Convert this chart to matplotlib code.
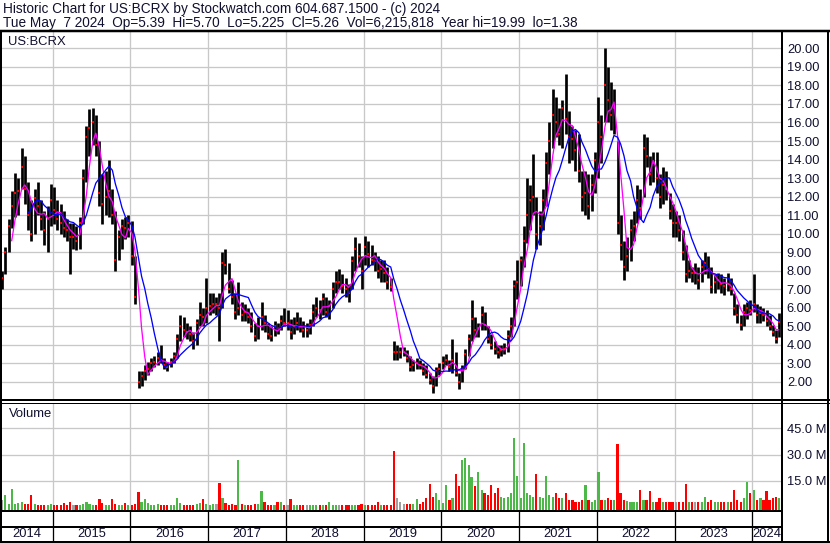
import numpy as np
import pandas as pd
import matplotlib
matplotlib.use('Agg')
import matplotlib.pyplot as plt
import matplotlib.dates as mdates

plt.rcParams['font.family'] = ['Liberation Sans', 'DejaVu Sans']

# half-month bars (high, low, close)
bars_2014 = [(8.0, 7.0, 7.6), (9.3, 7.8, 9.0), (10.8, 9.0, 10.4), (12.3, 10.3, 11.5),
             (13.3, 10.9, 12.2), (13.0, 11.0, 12.3), (14.6, 12.4, 13.6), (14.2, 11.6, 12.4),
             (12.8, 10.2, 11.0), (11.8, 9.6, 10.0), (12.4, 10.0, 11.9), (12.8, 11.0, 11.5),
             (11.8, 10.2, 10.8), (11.2, 9.4, 10.2), (11.5, 9.0, 10.8), (12.7, 10.4, 11.8)]
bars_2015 = [(12.5, 10.5, 11.3), (11.8, 10.2, 10.8), (11.6, 10.0, 10.6), (11.2, 9.8, 10.3),
             (10.8, 9.6, 10.2), (10.6, 7.8, 9.8), (10.6, 9.2, 9.8), (10.4, 9.1, 9.6),
             (10.9, 9.2, 10.6), (13.5, 10.5, 13.0), (15.8, 12.8, 15.2), (16.7, 14.2, 15.7),
             (16.8, 14.8, 16.0), (16.4, 14.2, 14.8), (15.0, 11.5, 12.2), (13.2, 10.5, 11.6),
             (13.4, 11.0, 12.0), (14.0, 10.9, 12.3), (12.4, 10.5, 11.0), (11.2, 8.0, 8.6),
             (10.2, 8.6, 9.8), (10.8, 9.2, 10.4), (10.9, 9.7, 10.3), (11.0, 9.8, 10.6)]
bars_2016 = [(10.7, 8.3, 8.8), (8.8, 6.2, 6.6), (2.6, 1.7, 2.0), (2.6, 1.8, 2.3),
             (2.9, 2.1, 2.6), (3.1, 2.4, 2.7), (3.3, 2.6, 3.0), (3.4, 2.8, 3.1),
             (3.6, 2.9, 3.3), (4.0, 3.0, 3.2), (3.3, 2.7, 2.9), (3.1, 2.6, 2.8),
             (3.3, 2.8, 3.1), (3.6, 3.0, 3.4), (4.6, 3.3, 4.3), (5.6, 4.2, 5.0),
             (5.5, 4.4, 4.8), (5.2, 4.3, 4.7), (5.0, 4.2, 4.6), (4.7, 3.8, 4.2),
             (5.4, 4.0, 5.2), (6.3, 5.0, 5.6), (6.0, 5.0, 5.5), (7.6, 5.2, 6.0)]
bars_2017 = [(6.8, 5.6, 6.1), (6.8, 5.7, 6.2), (6.6, 5.6, 6.2), (6.8, 4.2, 6.0),
             (9.0, 6.0, 8.4), (9.2, 7.8, 8.3), (8.4, 6.8, 7.0), (7.5, 6.2, 6.6),
             (6.8, 5.4, 5.8), (7.4, 5.6, 6.0), (6.3, 5.3, 5.6), (6.2, 5.3, 5.8),
             (6.0, 5.2, 5.5), (5.8, 4.7, 5.0), (5.2, 4.2, 4.5), (5.5, 4.3, 5.0),
             (6.3, 4.8, 5.5), (5.6, 4.7, 5.2), (5.2, 4.3, 4.6), (5.0, 4.2, 4.5),
             (5.3, 4.5, 5.0), (5.2, 4.6, 4.9), (5.6, 4.8, 5.3), (6.0, 5.0, 5.2)]
bars_2018 = [(5.9, 4.8, 5.2), (5.4, 4.3, 4.7), (5.5, 4.6, 5.0), (5.8, 4.8, 5.2),
             (5.5, 4.7, 5.0), (5.3, 4.4, 4.8), (5.2, 4.4, 4.8), (5.4, 4.6, 5.1),
             (6.2, 5.0, 5.8), (6.6, 5.5, 6.0), (6.4, 5.4, 5.9), (6.8, 5.6, 6.5),
             (6.6, 5.5, 5.8), (6.4, 5.4, 6.1), (7.4, 6.0, 7.0), (8.0, 6.8, 7.4),
             (8.1, 7.0, 7.4), (7.8, 6.8, 7.2), (7.6, 6.6, 7.0), (7.3, 6.3, 6.8),
             (8.8, 7.0, 8.5), (9.8, 8.0, 9.2), (9.5, 8.2, 8.8), (8.8, 7.0, 8.0)]
bars_2019 = [(9.9, 8.3, 9.3), (9.6, 8.2, 8.9), (9.4, 8.3, 8.6), (9.0, 8.0, 8.5),
             (8.8, 7.6, 8.0), (8.6, 7.4, 8.1), (8.6, 7.4, 7.9), (8.2, 7.0, 7.4),
             (7.6, 6.9, 7.1), (4.2, 3.2, 3.6), (4.0, 3.2, 3.6), (3.9, 3.3, 3.6),
             (3.9, 3.4, 3.6), (3.7, 3.1, 3.3), (3.4, 2.6, 2.8), (3.2, 2.6, 2.9),
             (3.3, 2.7, 3.0), (3.2, 2.7, 2.9), (3.0, 2.4, 2.6), (2.9, 2.2, 2.4),
             (2.5, 1.9, 2.1), (2.3, 1.4, 1.8), (2.8, 1.8, 2.6), (3.0, 2.4, 2.7)]
bars_2020 = [(3.4, 2.7, 3.0), (3.5, 2.9, 3.2), (3.2, 2.6, 2.8), (4.3, 2.5, 3.2),
             (3.6, 2.3, 2.5), (2.5, 1.6, 2.0), (2.9, 2.0, 2.7), (3.8, 2.7, 3.5),
             (4.6, 3.4, 4.3), (6.4, 4.2, 5.4), (5.5, 4.4, 4.8), (5.2, 4.4, 4.9),
             (6.1, 4.8, 5.6), (5.8, 4.8, 5.1), (5.0, 4.1, 4.3), (4.6, 3.8, 4.0),
             (4.2, 3.5, 3.8), (4.0, 3.3, 3.6), (4.0, 3.4, 3.7), (4.1, 3.5, 3.8),
             (4.8, 3.6, 4.5), (5.5, 4.4, 5.0), (7.5, 5.0, 7.2), (8.6, 6.5, 7.4)]
bars_2021 = [(8.8, 7.2, 8.6), (10.4, 8.2, 9.6), (13.0, 9.5, 11.0), (12.6, 10.2, 11.8),
             (14.3, 11.0, 12.0), (12.0, 9.2, 10.0), (11.2, 9.4, 10.4), (12.4, 10.2, 11.8),
             (14.4, 11.5, 13.8), (16.0, 13.2, 15.0), (17.8, 14.6, 16.4), (17.4, 15.2, 16.0),
             (16.8, 14.8, 15.4), (17.2, 14.6, 16.8), (18.6, 15.4, 16.2), (16.6, 13.8, 15.2),
             (15.8, 14.0, 15.1), (15.6, 13.4, 14.5), (15.4, 12.8, 13.4), (13.4, 11.2, 12.0),
             (13.4, 11.0, 12.2), (13.2, 10.8, 11.5), (13.2, 11.2, 12.6), (14.4, 12.2, 14.0)]
bars_2022 = [(17.4, 13.0, 16.0), (16.4, 13.8, 15.2), (20.0, 16.0, 18.0), (19.0, 16.0, 17.2),
             (18.2, 15.6, 16.4), (17.8, 15.4, 16.8), (15.0, 10.0, 10.6), (11.0, 8.6, 9.4),
             (9.6, 7.5, 8.2), (9.8, 8.0, 8.8), (10.8, 8.5, 10.2), (11.2, 9.6, 10.4),
             (12.6, 10.6, 11.8), (12.4, 10.8, 11.4), (15.4, 12.0, 14.6), (15.2, 13.6, 14.2),
             (14.2, 12.6, 13.2), (14.4, 12.8, 13.8), (14.4, 12.2, 13.0), (13.2, 11.4, 12.0),
             (13.6, 11.6, 12.6), (13.4, 11.8, 12.4), (12.2, 10.8, 11.2), (11.6, 9.8, 10.6)]
bars_2023 = [(11.2, 9.8, 10.6), (11.0, 9.6, 10.2), (10.2, 8.6, 9.0), (9.4, 7.4, 7.8),
             (8.6, 7.6, 8.0), (8.2, 7.4, 7.9), (8.4, 7.3, 7.9), (8.2, 7.0, 7.5),
             (8.6, 7.4, 8.2), (9.0, 7.8, 8.4), (8.8, 7.6, 8.1), (8.2, 6.8, 7.1),
             (7.8, 6.8, 7.4), (7.9, 7.0, 7.5), (7.8, 6.8, 7.3), (7.6, 6.7, 7.2),
             (7.9, 6.9, 7.3), (7.6, 6.7, 7.0), (6.8, 5.6, 6.0), (6.2, 5.2, 5.6),
             (5.6, 4.8, 5.1), (6.2, 5.0, 5.8), (6.3, 5.4, 6.0), (6.4, 5.6, 5.9)]
bars_2024 = [(7.8, 5.8, 6.2), (6.2, 5.2, 5.6), (6.1, 5.2, 5.7), (6.0, 5.3, 5.6),
             (5.9, 5.0, 5.3), (5.6, 4.8, 5.0), (5.1, 4.5, 4.7), (4.8, 4.1, 4.3),
             (5.7, 4.4, 5.26)]

# volume per half month, millions
vol_2014 = [4.0, 7.0, 2.0, 10.4, 2.0, 2.5, 3.0, 2.0, 2.0, 7.0, 2.0, 1.5, 1.5, 1.5, 1.5, 2.0]
vol_2015 = [1.2, 1.0, 1.2, 2.5, 1.0, 3.0, 1.2, 1.0, 1.5, 2.0, 3.0, 2.0,
            1.5, 1.5, 4.4, 2.5, 1.5, 1.5, 4.7, 2.0, 1.5, 1.2, 2.5, 1.5]
vol_2016 = [1.5, 2.0, 8.7, 3.0, 4.4, 2.5, 1.5, 1.5, 2.0, 1.5, 1.2, 1.2,
            1.2, 1.5, 5.0, 2.5, 1.5, 1.5, 1.2, 1.5, 2.0, 2.5, 4.6, 2.0]
vol_2017 = [1.5, 2.0, 2.0, 13.6, 5.0, 2.5, 1.5, 2.0, 1.5, 26.9, 2.0, 1.5,
            1.2, 1.5, 2.0, 1.8, 9.0, 3.0, 1.5, 1.5, 1.5, 3.0, 3.0, 1.5]
vol_2018 = [1.2, 4.7, 1.2, 1.0, 1.0, 1.0, 1.0, 1.0, 1.2, 1.0, 1.0, 1.0,
            1.2, 3.0, 1.2, 1.0, 1.0, 1.0, 1.2, 1.0, 1.0, 1.0, 1.0, 2.0]
vol_2019 = [1.2, 1.5, 1.5, 1.2, 3.0, 1.5, 1.2, 1.5, 1.5, 32.0, 5.0, 3.0,
            2.0, 2.0, 2.0, 2.0, 4.7, 2.0, 3.0, 5.0, 13.4, 6.0, 8.0, 4.0]
vol_2020 = [2.5, 12.8, 4.0, 5.0, 19.0, 12.0, 27.0, 28.0, 24.0, 17.0, 12.0, 20.0,
            10.0, 8.0, 7.0, 12.8, 8.0, 10.8, 6.0, 5.0, 6.0, 8.0, 39.6, 18.0]
vol_2021 = [5.0, 36.6, 8.0, 7.0, 6.0, 18.7, 6.0, 5.0, 18.0, 7.0, 6.0, 8.0,
            5.0, 5.0, 8.0, 4.0, 4.0, 3.0, 3.0, 4.0, 12.6, 4.0, 3.0, 4.0]
vol_2022 = [20.0, 4.0, 4.0, 5.0, 4.0, 4.0, 36.0, 8.0, 4.0, 3.5, 3.0, 3.0,
            3.0, 10.0, 4.0, 4.0, 9.0, 3.0, 3.0, 5.0, 3.0, 3.0, 3.0, 3.0]
vol_2023 = [3.0, 3.0, 3.0, 13.0, 3.0, 3.0, 3.0, 3.0, 3.0, 6.0, 3.0, 4.0,
            3.0, 3.0, 3.0, 3.0, 3.0, 3.0, 10.0, 4.0, 3.0, 5.0, 14.6, 8.0]
vol_2024 = [10.0, 4.0, 5.0, 4.0, 9.0, 4.0, 5.0, 6.0, 5.0]

years = list(range(2014, 2025))
price_ticks = list(range(2, 21))
vol_ticks = [15, 30, 45]

header1 = 'Historic Chart for US:BCRX by Stockwatch.com 604.687.1500 - (c) 2024'
header2 = ('Tue May  7 2024  Op=5.39  Hi=5.70  Lo=5.225  Cl=5.26  '
           'Vol=6,215,818  Year hi=19.99  lo=1.38')

# ---- assemble ----
all_bars = (bars_2014 + bars_2015 + bars_2016 + bars_2017 + bars_2018 + bars_2019
            + bars_2020 + bars_2021 + bars_2022 + bars_2023 + bars_2024)
high, low, close = (np.array(v) for v in zip(*all_bars))
volume = np.array(vol_2014 + vol_2015 + vol_2016 + vol_2017 + vol_2018 + vol_2019
                  + vol_2020 + vol_2021 + vol_2022 + vol_2023 + vol_2024)

starts = pd.date_range('2014-05-01', '2024-05-01', freq='SMS')
centers = starts + pd.Timedelta(days=7)
centers = centers[:-1].append(pd.DatetimeIndex([pd.Timestamp('2024-05-04')]))
xd = mdates.date2num(centers)

# moving averages of the closes
cs = pd.Series(close)
ma_fast = cs.rolling(4).mean()
ma_slow = cs.rolling(9).mean()

diff = np.diff(close, prepend=close[0])
vcol = np.where(diff > 0, '#4cb848', np.where(diff < 0, '#ff0000', '#a0a0a0'))

x0 = mdates.date2num(pd.Timestamp('2014-05-05'))
x1 = mdates.date2num(pd.Timestamp('2024-05-14 18:00'))
year_lines = mdates.date2num([pd.Timestamp(f'{y}-01-01') for y in years[1:]])

W, H = 830, 543
PX = 0.72  # points per pixel at dpi 100


def rect(left, top, right, bottom):
    return [left / W, 1 - bottom / H, (right - left) / W, (bottom - top) / H]


fig = plt.figure(figsize=(W / 100, H / 100), dpi=100)
fig.patch.set_facecolor('white')

grid_c = '#c8c8c8'
txt_c = '#101030'

# price panel
ax = fig.add_axes(rect(1.5, 31, 781, 399.5))
ax.set_xlim(x0, x1)
ax.set_ylim(1.054, 20.935)
ax.set_yticks(price_ticks)
ax.set_yticklabels([f'{v:.2f}' for v in price_ticks])
ax.set_xticks(year_lines)
ax.grid(True, color=grid_c, lw=1.3 * PX)
ax.set_axisbelow(True)
ax.yaxis.tick_right()
ax.tick_params(axis='y', length=0, pad=4.2, labelsize=9.3, labelcolor=txt_c)
ax.tick_params(axis='x', length=0, labelbottom=False)
for s in ax.spines.values():
    s.set_visible(False)
ax.vlines(xd, low, high, color='black', lw=2.7 * PX, zorder=2)
ax.plot(xd, close, ls='none', marker='s', ms=1.5, mew=0, color='red', zorder=3)
ax.plot(xd, ma_fast, color='#ff00ff', lw=1.3 * PX, zorder=4)
ax.plot(xd, ma_slow, color='#0000ff', lw=1.3 * PX, zorder=4)

# volume panel
vlo = -1.88
av = fig.add_axes(rect(1.5, 402.5, 781, 510.5))
av.set_xlim(x0, x1)
av.set_ylim(vlo, 59.7)
av.set_yticks(vol_ticks)
av.set_yticklabels([f'{v:.1f} M' for v in vol_ticks])
av.set_xticks(year_lines)
av.grid(True, color=grid_c, lw=1.3 * PX)
av.set_axisbelow(True)
av.yaxis.tick_right()
av.tick_params(axis='y', length=0, pad=4.2, labelsize=9.3, labelcolor=txt_c)
av.tick_params(axis='x', length=0, labelbottom=False)
for s in av.spines.values():
    s.set_visible(False)
av.bar(xd, volume - vlo, bottom=vlo, width=10.5, color=vcol, lw=0, zorder=2)

# date strip
ad = fig.add_axes(rect(1.5, 510.5, 781, 541.5))
ad.set_xlim(x0, x1)
ad.set_ylim(541.5, 510.5)
ad.axis('off')
ad.vlines(year_lines, 510.5, 541.5, color='black', lw=1.3 * PX)
edges = [x0] + list(year_lines) + [x1]
for yr, a, b in zip(years, edges[:-1], edges[1:]):
    ad.text((a + b) / 2, 534.5, str(yr), ha='center', va='center', fontsize=9.3,
            color=txt_c)

# frame lines and titles in pixel coordinates
ov = fig.add_axes([0, 0, 1, 1], zorder=10)
ov.set_xlim(0, W)
ov.set_ylim(H, 0)
ov.axis('off')
ov.patch.set_alpha(0)


def hline(y, xa, xb, w):
    ov.plot([xa, xb], [y, y], color='black', lw=w * PX, solid_capstyle='butt')


def vline(x, ya, yb, w):
    ov.plot([x, x], [ya, yb], color='black', lw=w * PX, solid_capstyle='butt')


hline(30.5, 0, W, 2.5)
hline(400.0, 0, W, 2)
hline(402.8, 0, W, 1)
hline(510.5, 0, 781, 2)
hline(527.0, 0, 781, 2)
hline(541.8, 0, W, 2)
vline(0.9, 30, H, 2)
vline(781.5, 30, H, 2)
vline(828.0, 30, H, 2)

ov.text(3, 9.5, header1, ha='left', va='center', fontsize=9.8, color=txt_c)
ov.text(3, 23.3, header2, ha='left', va='center', fontsize=9.8, color=txt_c)
ov.text(8, 41.7, 'US:BCRX', ha='left', va='center', fontsize=9.4, color=txt_c)
ov.text(9, 414, 'Volume', ha='left', va='center', fontsize=9.4, color=txt_c)

fig.savefig('out.png', dpi=100)
